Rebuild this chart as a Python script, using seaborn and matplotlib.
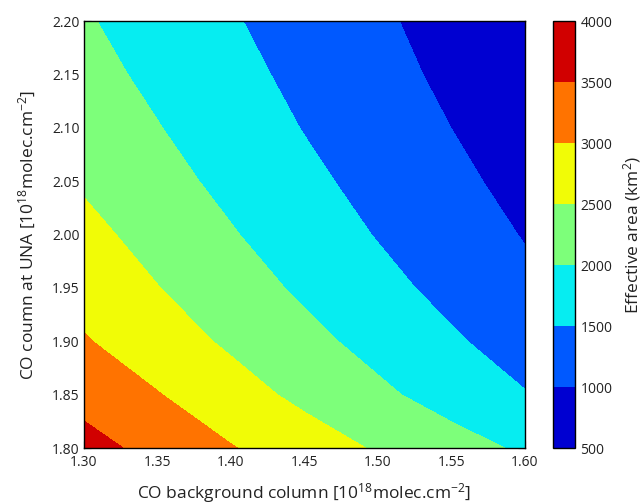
import numpy as np
import seaborn as sns
import matplotlib
matplotlib.use("Agg")
import matplotlib.pyplot as plt

# Grid (x: background column, y: column at UNA)
bg_column = [1.30, 1.35, 1.40, 1.45, 1.50, 1.55, 1.60]
una_column = [1.80, 1.85, 1.90, 1.95, 2.00, 2.05, 2.10, 2.15, 2.20]

# effective area (km2), one row per una_column value
area = [
    [3660, 3355, 3026, 2736, 2453, 2189, 1927],
    [3345, 3021, 2697, 2385, 2091, 1803, 1523],
    [3036, 2729, 2425, 2132, 1844, 1561, 1284],
    [2822, 2512, 2214, 1921, 1638, 1365, 1104],
    [2631, 2330, 2033, 1751, 1475, 1225, 975],
    [2442, 2157, 1880, 1605, 1348, 1103, 861],
    [2293, 2018, 1749, 1482, 1240, 998, 768],
    [2156, 1894, 1635, 1385, 1144, 908, 685],
    [2045, 1791, 1539, 1301, 1065, 841, 629],
]
levels = [500, 1000, 1500, 2000, 2500, 3000, 3500, 4000]
x_ticks = [1.30, 1.35, 1.40, 1.45, 1.50, 1.55, 1.60]
y_ticks = [1.80, 1.85, 1.90, 1.95, 2.00, 2.05, 2.10, 2.15, 2.20]

sns.set_style("ticks")
plt.rcParams['font.family'] = ['Open Sans', 'DejaVu Sans']
plt.rcParams['mathtext.fontset'] = 'custom'
plt.rcParams['mathtext.rm'] = 'Open Sans'
plt.rcParams['mathtext.it'] = 'Open Sans:italic'
plt.rcParams['mathtext.bf'] = 'Open Sans:bold'

fig = plt.figure(figsize=(6.43, 5.04), dpi=100)
ax = fig.add_axes([0.1306, 0.1111, 0.6859, 0.8472])
cax = fig.add_axes([0.860, 0.1111, 0.034, 0.8472])

X, Y = np.meshgrid(bg_column, una_column)
cs = ax.contourf(X, Y, np.array(area), levels=levels, cmap='jet')

ax.set_xlim(1.30, 1.60)
ax.set_ylim(1.80, 2.20)
ax.set_xticks(x_ticks)
ax.set_yticks(y_ticks)
ax.set_xticklabels([f"{v:.2f}" for v in x_ticks])
ax.set_yticklabels([f"{v:.2f}" for v in y_ticks])
ax.tick_params(direction='in', top=True, right=True, length=5, width=0.8,
               labelsize=10, pad=3, colors='#222222', labelcolor='#222222')
ax.tick_params(axis='x', pad=5)
for s in ax.spines.values():
    s.set_color('black')
    s.set_linewidth(1.0)

ax.set_xlabel(r"CO background column [10$^{18}$molec.cm$^{-2}$]", fontsize=12.5,
              labelpad=8, color='#222222')
ax.set_ylabel(r"CO coumn at UNA [10$^{18}$molec.cm$^{-2}$]", fontsize=12.5,
              labelpad=10, color='#222222')

cb = fig.colorbar(cs, cax=cax)
cb.set_ticks(levels)
cb.ax.tick_params(direction='in', length=0, labelsize=10, pad=4, colors='#222222')
cb.outline.set_edgecolor('black')
cb.outline.set_linewidth(1.0)
cb.set_label(r"Effective area (km$^2$)", fontsize=12.5, labelpad=6, color='#222222')

fig.savefig("out.png", dpi=100)
